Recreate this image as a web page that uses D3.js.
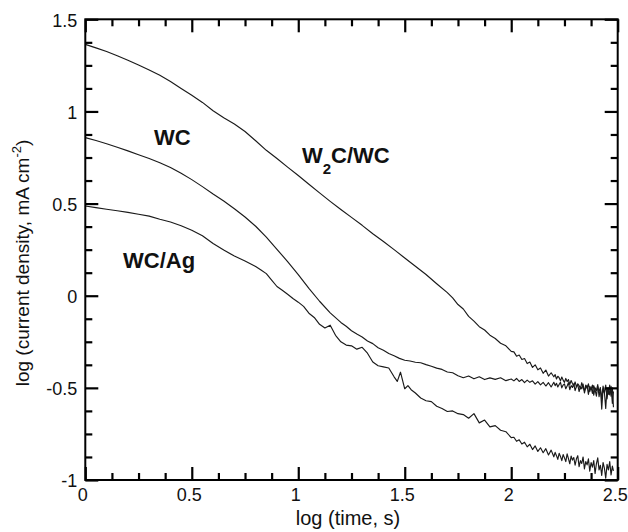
<!DOCTYPE html>
<html>
<head>
<meta charset="utf-8">
<script src="https://cdn.jsdelivr.net/npm/d3@7"></script>
<style>
  html, body { margin: 0; padding: 0; background: #fff; }
  svg { display: block; }
  text { font-family: "Liberation Sans", Arial, sans-serif; fill: #111; }
</style>
</head>
<body>
<svg id="chart" width="628" height="532"></svg>
<script>
// ---------- data ----------
const grid = [2.0125,2.025,2.0375,2.05,2.0625,2.075,2.0875,2.1,2.1125,2.125,2.1375,2.15,2.1625,2.175,2.1875,
  2.2,2.20625,2.2125,2.21875,2.225,2.23125,2.2375,2.24375,2.25,2.25625,2.2625,2.26875,2.275,2.28125,2.2875,2.29375,
  2.3,2.30625,2.3125,2.31875,2.325,2.33125,2.3375,2.34375,2.35,2.35625,2.3625,2.36875,2.375,2.38125,2.3875,2.39375,
  2.4,2.40625,2.4125,2.41875,2.425,2.43125,2.4375,2.44375,2.45,2.45625,2.4625,2.46875,2.475,2.48];

const w2cLogTime = [0,0.05,0.1,0.15,0.2,0.25,0.3,0.35,0.4,0.45,0.5,0.55,0.6,0.65,0.7,0.75,0.8,0.85,0.9,0.95,1.0,1.05,1.1,1.15,1.2,1.25,1.3,1.35,1.4,1.45,1.5,1.55,1.6,1.65,1.7,1.725,1.75,1.775,1.8,1.825,1.85,1.875,1.9,1.925,1.95,1.975,2.0].concat(grid);
const w2cLogCurrent = [1.364,1.345,1.325,1.302,1.278,1.252,1.225,1.196,1.163,1.125,1.088,1.049,1.004,0.966,0.932,0.891,0.841,0.789,0.745,0.698,0.652,0.605,0.558,0.512,0.468,0.425,0.382,0.336,0.294,0.250,0.205,0.160,0.115,0.065,0.017,-0.012,-0.048,-0.072,-0.112,-0.138,-0.168,-0.186,-0.214,-0.232,-0.258,-0.272,-0.302,
  -0.305,-0.328,-0.322,-0.346,-0.341,-0.368,-0.360,-0.389,-0.375,-0.402,-0.392,-0.421,-0.403,-0.436,-0.418,
  -0.440,-0.428,-0.452,-0.437,-0.445,-0.462,-0.441,-0.458,-0.470,-0.449,-0.466,-0.455,-0.482,-0.460,-0.476,-0.490,
  -0.468,-0.495,-0.478,-0.488,-0.505,-0.472,-0.498,-0.515,-0.485,-0.502,-0.478,-0.520,-0.495,-0.530,-0.488,-0.510,
  -0.545,-0.492,-0.520,-0.498,-0.615,-0.505,-0.528,-0.485,-0.560,-0.500,-0.538,-0.492,-0.585,-0.520];

const wcLogTime = [0,0.05,0.1,0.15,0.2,0.25,0.3,0.35,0.4,0.45,0.5,0.55,0.6,0.65,0.7,0.75,0.8,0.85,0.9,0.95,1.0,1.05,1.1,1.15,
  1.2,1.225,1.25,1.275,1.3,1.325,1.35,1.375,1.4,1.425,1.45,1.475,1.5,1.525,1.55,1.575,1.6,1.625,1.65,1.675,1.7,1.725,1.75,1.775,1.8,1.825,1.85,1.875,1.9,1.925,1.95,1.975,2.0].concat(grid);
const wcLogCurrent = [0.858,0.842,0.825,0.806,0.786,0.765,0.745,0.722,0.696,0.664,0.630,0.592,0.552,0.514,0.472,0.427,0.377,0.318,0.252,0.185,0.115,0.040,-0.030,-0.093,
  -0.145,-0.166,-0.190,-0.208,-0.224,-0.246,-0.260,-0.282,-0.296,-0.314,-0.326,-0.340,-0.350,-0.354,-0.361,-0.364,-0.374,-0.383,-0.393,-0.400,-0.414,-0.418,-0.434,-0.445,-0.436,-0.451,-0.440,-0.455,-0.446,-0.454,-0.445,-0.461,-0.452,
  -0.462,-0.449,-0.465,-0.455,-0.472,-0.458,-0.470,-0.462,-0.480,-0.466,-0.484,-0.470,-0.490,-0.472,-0.495,
  -0.470,-0.488,-0.475,-0.495,-0.482,-0.470,-0.500,-0.485,-0.478,-0.505,-0.490,-0.472,-0.510,-0.488,-0.498,-0.478,
  -0.515,-0.492,-0.482,-0.520,-0.495,-0.505,-0.480,-0.528,-0.498,-0.488,-0.535,-0.492,-0.510,-0.485,-0.540,-0.500,
  -0.515,-0.482,-0.548,-0.505,-0.560,-0.490,-0.525,-0.612,-0.498,-0.535,-0.485,-0.545,-0.500,-0.605];

const agLogTime = [0,0.05,0.1,0.15,0.2,0.25,0.3,0.35,0.4,0.45,0.5,0.55,0.6,0.65,0.7,0.75,0.8,
  0.825,0.85,0.875,0.9,0.925,0.95,0.975,1.0,1.025,1.05,1.075,1.1,1.125,
  1.15,1.175,1.2,1.225,1.25,1.275,1.3,1.325,1.35,1.375,1.4,1.425,1.45,
  1.465,1.48,1.5,1.515,1.53,
  1.55,1.575,1.6,1.625,1.65,1.675,1.7,1.725,1.75,1.775,1.8,1.825,1.85,1.875,1.9,1.925,1.95,1.975,2.0].concat(grid);
const agLogCurrent = [0.487,0.478,0.469,0.461,0.452,0.442,0.432,0.415,0.400,0.380,0.355,0.325,0.283,0.248,0.215,0.188,0.158,
  0.140,0.120,0.085,0.050,0.030,0.008,-0.015,-0.035,-0.058,-0.095,-0.118,-0.155,-0.175,
  -0.160,-0.215,-0.250,-0.268,-0.272,-0.290,-0.280,-0.312,-0.360,-0.380,-0.386,-0.392,-0.440,
  -0.465,-0.415,-0.505,-0.488,-0.510,
  -0.528,-0.555,-0.570,-0.575,-0.600,-0.612,-0.628,-0.625,-0.640,-0.645,-0.665,-0.640,-0.690,-0.675,-0.712,-0.705,-0.730,-0.738,-0.770,
  -0.768,-0.790,-0.782,-0.805,-0.795,-0.820,-0.806,-0.835,-0.815,-0.845,-0.825,-0.852,-0.830,-0.864,-0.838,
  -0.874,-0.850,-0.868,-0.888,-0.855,-0.872,-0.895,-0.862,-0.880,-0.900,-0.858,-0.884,-0.912,-0.870,-0.892,-0.878,
  -0.920,-0.885,-0.868,-0.928,-0.895,-0.910,-0.875,-0.940,-0.900,-0.918,-0.885,-0.952,-0.905,-0.930,-0.895,-0.965,
  -0.912,-0.880,-0.945,-0.920,-0.975,-0.905,-0.935,-0.990,-0.915,-0.945,-0.900,-0.972,-0.925,-0.950];

const xMajorTicks = [0, 0.5, 1, 1.5, 2, 2.5];
const xTickLabels = ["0", "0.5", "1", "1.5", "2", "2.5"];
const yMajorTicks = [-1, -0.5, 0, 0.5, 1, 1.5];
const yTickLabels = ["-1", "-0.5", "0", "0.5", "1", "1.5"];
const xMinorTicks = [0.125,0.25,0.375,0.625,0.75,0.875,1.125,1.25,1.375,1.625,1.75,1.875,2.125,2.25,2.375];
const yMinorTicks = [-0.875,-0.75,-0.625,-0.375,-0.25,-0.125,0.125,0.25,0.375,0.625,0.75,0.875,1.125,1.25,1.375];

const seriesNames = ["W2C/WC", "WC", "WC/Ag"];

// ---------- layout ----------
const W = 628, H = 532;
const margin = { left: 85.3, top: 19.3, right: 10.3, bottom: 52 };
const iw = W - margin.left - margin.right;
const ih = H - margin.top - margin.bottom;

const svg = d3.select("#chart");
const g = svg.append("g").attr("transform", `translate(${margin.left},${margin.top})`);

const x = d3.scaleLinear().domain([0, 2.5]).range([0, iw]);
const y = d3.scaleLinear().domain([-1, 1.5]).range([ih, 0]);

// ---------- curves ----------
const line = d3.line().x(d => x(d[0])).y(d => y(d[1]));
const series = [
  d3.zip(w2cLogTime, w2cLogCurrent),
  d3.zip(wcLogTime, wcLogCurrent),
  d3.zip(agLogTime, agLogCurrent)
];
g.selectAll("path.curve").data(series).enter().append("path")
  .attr("class", "curve")
  .attr("d", line)
  .attr("fill", "none")
  .attr("stroke", "#1a1a1a")
  .attr("stroke-width", 1.15)
  .attr("stroke-linejoin", "round");

// ---------- axes: d3 axes on all four sides, inward ticks ----------
const majorLen = 13, minorLen = 7;
function finish(sel) {
  sel.select(".domain").remove();
  sel.selectAll(".tick line").attr("stroke", "#000").attr("stroke-width", 2.2).attr("stroke-linecap", "butt");
  return sel;
}
// bottom
const xb = g.append("g").attr("transform", `translate(0,${ih})`)
  .call(d3.axisBottom(x).tickValues(xMajorTicks).tickSizeInner(-majorLen).tickSizeOuter(0).tickPadding(8 - majorLen)
    .tickFormat((d, i) => xTickLabels[i]));
finish(xb);
xb.selectAll(".tick text").attr("y", 8).attr("font-size", 18).attr("dx", -3).attr("fill", "#111");
finish(g.append("g").attr("transform", `translate(0,${ih})`)
  .call(d3.axisBottom(x).tickValues(xMinorTicks).tickSizeInner(-minorLen).tickSizeOuter(0).tickFormat(() => "")));
// top
finish(g.append("g").call(d3.axisTop(x).tickValues(xMajorTicks).tickSizeInner(-majorLen).tickSizeOuter(0).tickFormat(() => "")));
finish(g.append("g").call(d3.axisTop(x).tickValues(xMinorTicks).tickSizeInner(-minorLen).tickSizeOuter(0).tickFormat(() => "")));
// left
const yl = g.append("g")
  .call(d3.axisLeft(y).tickValues(yMajorTicks).tickSizeInner(-majorLen).tickSizeOuter(0).tickPadding(8)
    .tickFormat((d, i) => yTickLabels[i]));
finish(yl);
yl.selectAll(".tick text").attr("x", -8).attr("font-size", 18).attr("dy", "0.38em").attr("fill", "#111");
finish(g.append("g").call(d3.axisLeft(y).tickValues(yMinorTicks).tickSizeInner(-minorLen).tickSizeOuter(0).tickFormat(() => "")));
// right
finish(g.append("g").attr("transform", `translate(${iw},0)`)
  .call(d3.axisRight(y).tickValues(yMajorTicks).tickSizeInner(-majorLen).tickSizeOuter(0).tickFormat(() => "")));
finish(g.append("g").attr("transform", `translate(${iw},0)`)
  .call(d3.axisRight(y).tickValues(yMinorTicks).tickSizeInner(-minorLen).tickSizeOuter(0).tickFormat(() => "")));

// frame
g.append("rect").attr("x", 0).attr("y", 0).attr("width", iw).attr("height", ih)
  .attr("fill", "none").attr("stroke", "#000").attr("stroke-width", 2);

// ---------- axis titles ----------
svg.append("text").attr("x", 348).attr("y", 525).attr("text-anchor", "middle")
  .attr("font-size", 20).text("log (time, s)");

const yt = svg.append("text").attr("transform", "translate(29,263) rotate(-90)")
  .attr("text-anchor", "middle").attr("font-size", 19);
yt.append("tspan").text("log (current density, mA cm");
yt.append("tspan").attr("font-size", 13).attr("dy", -8).text("-2");
yt.append("tspan").attr("dy", 8).text(")");

// ---------- curve labels ----------
const lab = svg.append("g").attr("font-weight", "bold").attr("font-size", 22);
const t1 = lab.append("text").attr("x", 302).attr("y", 163);
t1.append("tspan").text("W");
t1.append("tspan").attr("font-size", 15).attr("dy", 11).text("2");
t1.append("tspan").attr("dy", -11).text("C/WC");
lab.append("text").attr("x", 154).attr("y", 145).text(seriesNames[1]);
lab.append("text").attr("x", 123).attr("y", 268).text(seriesNames[2]);
</script>
</body>
</html>
